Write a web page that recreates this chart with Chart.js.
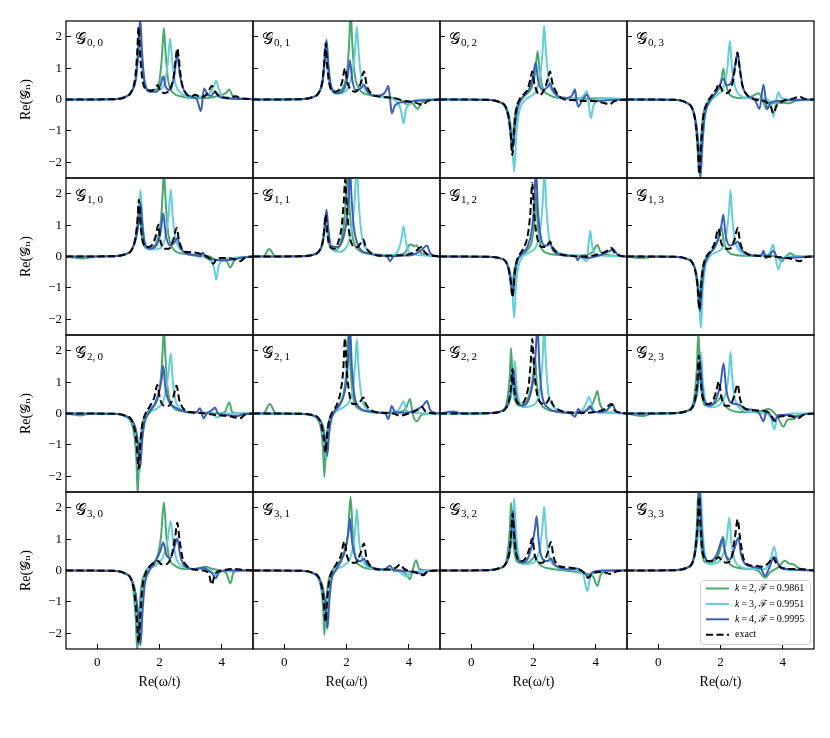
<!DOCTYPE html>
<html>
<head>
<meta charset="utf-8">
<script src="https://cdn.jsdelivr.net/npm/chart.js@4/dist/chart.umd.min.js"></script>
<style>
  body { margin: 0; background: #fff; }
  #wrap { position: relative; width: 830px; height: 738px; }
  canvas { position: absolute; }
</style>
</head>
<body>
<div id="wrap"></div>
<script>
// ---- data: [Re(w/t), Re(G)] pairs ----
// row 0
const g00k2 = [[-1,0],[0.5,0.01],[0.9,0.08],[1.1,0.25],[1.24,0.7],[1.3,1.4],[1.36,2.3],[1.42,1.4],[1.5,0.6],[1.65,0.3],[1.85,0.3],[2.0,0.6],[2.08,1.4],[2.14,2.28],[2.2,1.4],[2.28,0.6],[2.45,0.2],[2.7,0.1],[3.0,0.05],[3.5,0.05],[3.9,0.12],[4.15,0.22],[4.24,0.32],[4.33,0.15],[4.5,0.05],[5,0.01]];
const g00k3 = [[-1,0],[0.5,0.01],[0.9,0.08],[1.1,0.25],[1.24,0.7],[1.31,1.4],[1.37,2.3],[1.43,1.4],[1.5,0.6],[1.7,0.25],[2.0,0.3],[2.18,0.6],[2.27,1.2],[2.34,1.94],[2.41,1.2],[2.5,0.55],[2.7,0.2],[3.0,0.08],[3.4,0.1],[3.65,0.25],[3.75,0.45],[3.82,0.6],[3.9,0.35],[4.0,0.12],[4.3,0.05],[5,0.01]];
const g00k4 = [[-1,0],[0.5,0.01],[0.9,0.08],[1.1,0.25],[1.25,0.7],[1.32,1.5],[1.38,2.6],[1.44,1.5],[1.52,0.6],[1.7,0.25],[1.9,0.25],[2.03,0.45],[2.12,0.74],[2.2,0.4],[2.35,0.3],[2.48,0.8],[2.57,1.45],[2.65,0.8],[2.8,0.25],[3.0,0.1],[3.2,0.0],[3.33,-0.37],[3.43,0.35],[3.55,0.15],[3.65,0.12],[3.79,0.25],[3.9,0.1],[4.2,0.03],[5,0.01]];
const g00ex = [[-1,0],[0.5,0.01],[0.9,0.08],[1.1,0.25],[1.22,0.7],[1.28,1.4],[1.33,2.32],[1.38,1.4],[1.45,0.65],[1.6,0.3],[1.75,0.28],[1.87,0.38],[1.94,0.46],[2.02,0.3],[2.15,0.2],[2.3,0.28],[2.45,0.7],[2.52,1.3],[2.57,1.63],[2.62,1.3],[2.7,0.6],[2.85,0.2],[3.0,0.1],[3.15,0.15],[3.3,0.08],[3.5,0.15],[3.62,0.35],[3.68,0.44],[3.78,0.25],[3.95,0.1],[4.2,0.05],[4.45,0.1],[4.6,0.04],[5,0.01]];

const g01k2 = [[-1,0],[0.5,0.01],[0.9,0.07],[1.1,0.2],[1.22,0.55],[1.28,1.1],[1.33,1.75],[1.38,1.1],[1.45,0.5],[1.65,0.25],[1.9,0.4],[2.03,1.0],[2.09,1.9],[2.13,2.9],[2.18,1.9],[2.25,0.9],[2.4,0.35],[2.7,0.15],[3.1,0.1],[3.5,0.05],[3.8,-0.05],[3.95,-0.16],[4.1,-0.12],[4.28,-0.3],[4.4,-0.12],[4.6,-0.03],[5,0]];
const g01k3 = [[-1,0],[0.5,0.01],[0.9,0.07],[1.1,0.2],[1.22,0.55],[1.28,1.1],[1.34,1.7],[1.4,1.1],[1.47,0.45],[1.7,0.18],[2.0,0.3],[2.18,0.8],[2.27,1.5],[2.33,2.32],[2.39,1.5],[2.47,0.7],[2.65,0.25],[3.0,0.1],[3.4,0.03],[3.65,-0.1],[3.76,-0.4],[3.83,-0.76],[3.9,-0.35],[3.99,-0.17],[4.1,-0.05],[4.5,0],[5,0]];
const g01k4 = [[-1,0],[0.5,0.01],[0.9,0.07],[1.1,0.2],[1.24,0.6],[1.3,1.2],[1.36,1.9],[1.42,1.1],[1.5,0.45],[1.7,0.2],[1.9,0.3],[2.03,0.7],[2.11,1.24],[2.18,0.65],[2.3,0.3],[2.45,0.35],[2.56,0.46],[2.68,0.25],[2.9,0.12],[3.15,0.15],[3.28,0.3],[3.34,0.44],[3.4,0.0],[3.45,-0.44],[3.55,-0.2],[3.7,-0.1],[3.9,-0.08],[4.2,-0.05],[4.5,-0.02],[5,0]];
const g01ex = [[-1,0],[0.5,0.01],[0.9,0.07],[1.1,0.2],[1.22,0.55],[1.28,1.1],[1.33,1.79],[1.38,1.1],[1.45,0.5],[1.6,0.25],[1.75,0.3],[1.87,0.6],[1.95,0.99],[2.03,0.55],[2.15,0.3],[2.3,0.25],[2.45,0.5],[2.56,0.89],[2.65,0.45],[2.8,0.18],[3.0,0.1],[3.5,0.05],[3.9,-0.05],[4.2,-0.1],[4.45,-0.17],[4.6,-0.05],[5,0]];

const g02k2 = [[-1,0],[0.5,-0.01],[0.9,-0.08],[1.1,-0.25],[1.2,-0.6],[1.26,-1.1],[1.3,-1.6],[1.35,-1.0],[1.42,-0.4],[1.55,-0.05],[1.75,0.15],[1.95,0.4],[2.06,0.9],[2.13,1.54],[2.2,0.9],[2.3,0.35],[2.5,0.15],[2.8,0.05],[3.5,0.02],[4.2,0.04],[5,0]];
const g02k3 = [[-1,0],[0.5,-0.01],[0.9,-0.07],[1.1,-0.2],[1.22,-0.5],[1.3,-1.1],[1.38,-2.3],[1.45,-1.1],[1.55,-0.35],[1.7,-0.05],[1.9,0.1],[2.1,0.3],[2.22,0.8],[2.29,1.5],[2.34,2.35],[2.4,1.5],[2.48,0.65],[2.65,0.2],[3.0,0.05],[3.5,0.05],[3.65,0.18],[3.71,0.27],[3.77,-0.1],[3.84,-0.6],[3.92,-0.2],[4.05,0.0],[4.3,0.05],[5,0]];
const g02k4 = [[-1,0],[0.5,-0.01],[0.9,-0.08],[1.1,-0.23],[1.2,-0.55],[1.28,-1.1],[1.34,-1.55],[1.4,-0.9],[1.5,-0.25],[1.65,0.05],[1.85,0.3],[1.98,0.7],[2.07,1.18],[2.15,0.6],[2.3,0.3],[2.45,0.4],[2.53,0.5],[2.62,0.3],[2.8,0.1],[3.1,0.05],[3.25,0.15],[3.33,0.33],[3.38,0.0],[3.44,-0.23],[3.55,-0.05],[3.65,0.1],[3.71,0.16],[3.8,0.02],[4.0,-0.05],[4.3,-0.03],[5,0]];
const g02ex = [[-1,0],[0.5,-0.01],[0.9,-0.08],[1.1,-0.22],[1.2,-0.55],[1.27,-1.1],[1.32,-1.77],[1.37,-1.1],[1.44,-0.35],[1.55,0.0],[1.67,0.14],[1.82,0.35],[1.9,0.65],[1.96,0.89],[2.03,0.5],[2.2,0.14],[2.38,0.4],[2.47,0.7],[2.53,0.89],[2.6,0.55],[2.75,0.2],[3.0,0.0],[3.3,-0.02],[3.6,-0.05],[3.9,-0.05],[4.2,-0.1],[4.45,-0.15],[4.6,-0.05],[5,0]];

const g03k2 = [[-1,0],[0.5,-0.01],[0.9,-0.1],[1.1,-0.3],[1.2,-0.75],[1.26,-1.5],[1.31,-2.25],[1.36,-1.5],[1.43,-0.6],[1.55,-0.15],[1.75,0.1],[1.95,0.35],[2.03,0.65],[2.09,0.99],[2.16,0.55],[2.3,0.15],[2.6,0.05],[3.0,0.1],[3.22,0.2],[3.35,0.0],[3.48,-0.32],[3.6,-0.15],[3.9,-0.1],[4.2,-0.12],[4.4,-0.05],[5,0]];
const g03k3 = [[-1,0],[0.5,-0.01],[0.9,-0.09],[1.1,-0.28],[1.22,-0.75],[1.3,-1.5],[1.36,-2.6],[1.42,-1.5],[1.5,-0.55],[1.65,-0.1],[1.9,0.15],[2.1,0.4],[2.22,1.0],[2.3,1.86],[2.37,1.0],[2.47,0.4],[2.65,0.12],[3.0,0.03],[3.5,0.0],[3.62,-0.15],[3.7,-0.55],[3.77,-0.1],[3.86,0.23],[3.95,0.05],[4.2,0.0],[5,0]];
const g03k4 = [[-1,0],[0.5,-0.01],[0.9,-0.1],[1.1,-0.3],[1.21,-0.75],[1.29,-1.5],[1.35,-2.45],[1.41,-1.5],[1.48,-0.6],[1.6,-0.15],[1.8,0.15],[1.98,0.45],[2.09,0.67],[2.2,0.45],[2.35,0.55],[2.47,1.1],[2.55,1.5],[2.62,1.0],[2.72,0.4],[2.9,0.1],[3.1,0.0],[3.25,-0.3],[3.38,0.47],[3.5,-0.3],[3.6,-0.1],[3.8,-0.05],[4.2,-0.02],[5,0]];
const g03ex = [[-1,0],[0.5,-0.01],[0.9,-0.1],[1.1,-0.3],[1.2,-0.75],[1.27,-1.5],[1.32,-2.38],[1.37,-1.5],[1.44,-0.6],[1.55,-0.15],[1.7,0.1],[1.85,0.3],[1.95,0.5],[2.05,0.3],[2.2,0.2],[2.38,0.5],[2.48,1.1],[2.54,1.5],[2.6,1.1],[2.7,0.45],[2.85,0.15],[3.1,0.0],[3.4,-0.05],[3.6,-0.2],[3.7,-0.44],[3.8,-0.2],[4.0,-0.05],[4.3,0.02],[4.55,0.09],[4.7,0.02],[5,0]];

// row 1
const g10k2 = [[-1,0],[-0.5,-0.06],[0,0],[0.5,0.01],[0.9,0.07],[1.1,0.2],[1.22,0.55],[1.29,1.05],[1.34,1.7],[1.39,1.05],[1.46,0.45],[1.65,0.25],[1.9,0.45],[2.05,1.2],[2.1,2.0],[2.14,2.7],[2.19,1.9],[2.26,0.9],[2.4,0.3],[2.7,0.1],[3.2,0.05],[3.6,0.0],[3.8,-0.1],[4.0,-0.12],[4.15,-0.15],[4.27,-0.35],[4.4,-0.12],[4.6,-0.03],[5,0]];
const g10k3 = [[-1,0],[0.5,0.01],[0.9,0.07],[1.1,0.2],[1.25,0.6],[1.33,1.2],[1.39,2.11],[1.45,1.2],[1.52,0.5],[1.7,0.22],[2.0,0.25],[2.18,0.6],[2.29,1.3],[2.36,2.13],[2.43,1.2],[2.52,0.55],[2.7,0.2],[3.0,0.05],[3.4,0.0],[3.6,-0.1],[3.75,-0.35],[3.82,-0.74],[3.9,-0.3],[4.05,-0.1],[4.3,-0.05],[5,0]];
const g10k4 = [[-1,0],[0.5,0.01],[0.9,0.07],[1.1,0.2],[1.25,0.6],[1.33,1.1],[1.39,1.7],[1.45,1.0],[1.52,0.45],[1.7,0.25],[1.9,0.35],[2.04,0.8],[2.12,1.38],[2.2,0.7],[2.35,0.35],[2.48,0.45],[2.57,0.59],[2.66,0.3],[2.85,0.1],[3.2,0.03],[3.32,0.0],[3.39,0.13],[3.48,-0.02],[3.7,-0.1],[4.0,-0.12],[4.3,-0.1],[4.6,-0.05],[5,0]];
const g10ex = [[-1,0],[0.5,0.01],[0.9,0.07],[1.1,0.2],[1.22,0.55],[1.29,1.1],[1.34,1.81],[1.39,1.1],[1.46,0.5],[1.6,0.3],[1.75,0.35],[1.88,0.65],[1.96,1.01],[2.03,0.5],[2.15,0.25],[2.3,0.25],[2.45,0.55],[2.55,0.91],[2.63,0.5],[2.8,0.15],[3.1,0.13],[3.4,0.05],[3.6,-0.05],[3.73,-0.23],[3.85,-0.05],[4.2,-0.05],[4.45,-0.1],[4.59,-0.15],[4.75,-0.03],[5,0]];

const g11k2 = [[-1,0],[-0.65,0.02],[-0.48,0.24],[-0.3,0.02],[0,0],[0.5,0.01],[0.9,0.05],[1.1,0.15],[1.22,0.4],[1.28,0.8],[1.33,1.3],[1.38,0.8],[1.45,0.35],[1.65,0.2],[1.85,0.6],[1.96,1.5],[2.03,2.7],[2.1,1.5],[2.2,0.6],[2.4,0.2],[2.8,0.08],[3.3,0.05],[3.7,0.05],[3.9,0.15],[4.0,0.35],[4.09,0.38],[4.17,0.32],[4.25,0.36],[4.35,0.15],[4.6,0.05],[5,0]];
const g11k3 = [[-1,0],[0.5,0.01],[0.9,0.05],[1.1,0.15],[1.23,0.4],[1.3,0.8],[1.35,1.25],[1.4,0.8],[1.47,0.35],[1.7,0.15],[2.0,0.3],[2.15,0.8],[2.25,1.6],[2.33,2.9],[2.4,1.6],[2.5,0.6],[2.7,0.2],[3.1,0.05],[3.5,0.05],[3.7,0.3],[3.77,0.6],[3.83,0.96],[3.9,0.5],[4.0,0.15],[4.3,0.05],[5,0]];
const g11k4 = [[-1,0],[0.5,0.01],[0.9,0.05],[1.1,0.15],[1.24,0.45],[1.3,0.9],[1.36,1.49],[1.42,0.85],[1.5,0.35],[1.7,0.3],[1.9,0.6],[2.02,1.3],[2.07,2.0],[2.11,2.8],[2.16,1.9],[2.24,0.9],[2.4,0.3],[2.7,0.1],[3.1,0.03],[3.3,0.0],[3.4,-0.15],[3.5,0.0],[3.8,0.03],[4.1,0.05],[4.4,0.2],[4.58,0.35],[4.68,0.12],[4.85,0.02],[5,0]];
const g11ex = [[-1,0],[0.5,0.01],[0.9,0.05],[1.1,0.15],[1.22,0.4],[1.28,0.8],[1.33,1.33],[1.38,0.8],[1.45,0.35],[1.6,0.25],[1.75,0.5],[1.85,1.0],[1.91,1.7],[1.96,2.45],[2.01,1.6],[2.08,0.8],[2.2,0.35],[2.35,0.3],[2.47,0.45],[2.54,0.54],[2.62,0.3],[2.8,0.1],[3.2,0.02],[3.6,0.03],[3.9,0.05],[4.2,0.15],[4.35,0.28],[4.42,0.3],[4.5,0.15],[4.7,0.03],[5,0]];

const g12k2 = [[-1,0],[0.5,-0.01],[0.9,-0.05],[1.1,-0.15],[1.2,-0.4],[1.26,-0.8],[1.31,-1.2],[1.36,-0.6],[1.45,-0.15],[1.6,0.05],[1.8,0.2],[1.95,0.5],[2.03,1.1],[2.08,2.0],[2.13,1.1],[2.22,0.4],[2.4,0.12],[2.8,0.05],[3.3,0.03],[3.7,0.05],[3.9,0.15],[4.05,0.37],[4.15,0.15],[4.4,0.05],[5,0]];
const g12k3 = [[-1,0],[0.5,-0.01],[0.9,-0.05],[1.1,-0.15],[1.22,-0.4],[1.31,-0.9],[1.38,-1.96],[1.44,-0.9],[1.52,-0.3],[1.65,0.0],[1.9,0.15],[2.1,0.35],[2.22,0.9],[2.3,1.8],[2.35,2.8],[2.41,1.6],[2.5,0.6],[2.7,0.2],[3.1,0.05],[3.5,0.0],[3.71,-0.15],[3.77,0.4],[3.82,0.83],[3.88,0.35],[3.96,0.1],[4.2,0.03],[5,0]];
const g12k4 = [[-1,0],[0.5,-0.01],[0.9,-0.05],[1.1,-0.15],[1.21,-0.4],[1.28,-0.8],[1.34,-1.25],[1.4,-0.6],[1.48,-0.15],[1.6,0.05],[1.8,0.3],[1.94,0.8],[2.02,1.6],[2.08,2.8],[2.14,1.5],[2.22,0.7],[2.35,0.35],[2.45,0.35],[2.53,0.43],[2.62,0.2],[2.8,0.08],[3.2,0.02],[3.35,0.0],[3.42,-0.12],[3.5,0.0],[3.71,-0.05],[4.0,0.0],[4.3,0.1],[4.57,0.22],[4.68,0.08],[4.85,0.01],[5,0]];
const g12ex = [[-1,0],[0.5,-0.01],[0.9,-0.05],[1.1,-0.15],[1.2,-0.4],[1.27,-0.8],[1.33,-1.3],[1.38,-0.7],[1.45,-0.2],[1.55,0.05],[1.7,0.3],[1.82,0.7],[1.9,1.4],[1.96,2.34],[2.02,1.4],[2.1,0.7],[2.25,0.3],[2.4,0.3],[2.47,0.4],[2.53,0.48],[2.6,0.3],[2.8,0.1],[3.2,0.02],[3.6,0.0],[4.0,0.05],[4.3,0.15],[4.45,0.25],[4.51,0.27],[4.6,0.12],[4.8,0.02],[5,0]];

const g13k2 = [[-1,0],[-0.5,-0.05],[0,0],[0.5,-0.01],[0.9,-0.07],[1.1,-0.2],[1.2,-0.5],[1.26,-1.0],[1.31,-1.6],[1.36,-0.9],[1.44,-0.3],[1.6,0.05],[1.8,0.25],[1.95,0.6],[2.03,0.95],[2.1,0.5],[2.25,0.15],[2.5,0.05],[3.0,0.02],[3.5,0.02],[3.8,0.0],[3.97,-0.15],[4.1,0.0],[4.23,0.1],[4.4,0.02],[5,0]];
const g13k3 = [[-1,0],[0.5,-0.01],[0.9,-0.06],[1.1,-0.2],[1.22,-0.5],[1.3,-1.1],[1.37,-2.28],[1.43,-1.1],[1.5,-0.4],[1.65,0.0],[1.9,0.15],[2.1,0.35],[2.2,0.8],[2.27,1.4],[2.32,2.11],[2.38,1.2],[2.47,0.5],[2.65,0.15],[3.0,0.03],[3.4,0.02],[3.6,0.15],[3.68,0.38],[3.76,0.0],[3.86,-0.42],[3.95,-0.1],[4.2,0.0],[5,0]];
const g13k4 = [[-1,0],[0.5,-0.01],[0.9,-0.07],[1.1,-0.2],[1.21,-0.5],[1.28,-1.0],[1.34,-1.75],[1.4,-1.0],[1.47,-0.35],[1.6,0.0],[1.8,0.3],[1.95,0.65],[2.03,1.0],[2.09,1.33],[2.16,0.7],[2.3,0.35],[2.45,0.4],[2.55,0.48],[2.65,0.25],[2.85,0.08],[3.2,0.02],[3.32,0.05],[3.38,0.18],[3.45,-0.05],[3.58,0.05],[3.7,0.18],[3.8,0.0],[4.0,-0.05],[4.4,-0.03],[5,0]];
const g13ex = [[-1,0],[0.5,-0.01],[0.9,-0.07],[1.1,-0.2],[1.2,-0.5],[1.27,-1.0],[1.32,-1.69],[1.37,-1.0],[1.44,-0.35],[1.55,0.0],[1.7,0.2],[1.82,0.45],[1.93,0.88],[2.02,0.45],[2.15,0.25],[2.3,0.25],[2.45,0.55],[2.55,0.91],[2.63,0.45],[2.8,0.12],[3.1,0.03],[3.5,0.0],[3.9,-0.02],[4.3,-0.08],[4.55,-0.15],[4.7,-0.03],[5,0]];

// row 2
const g20k2 = [[-1,0],[-0.55,-0.06],[-0.2,0],[0.5,-0.01],[0.9,-0.09],[1.1,-0.3],[1.2,-0.75],[1.26,-1.5],[1.3,-2.55],[1.35,-1.4],[1.43,-0.45],[1.55,-0.05],[1.75,0.2],[1.95,0.5],[2.05,1.2],[2.1,2.0],[2.14,2.7],[2.19,1.8],[2.26,0.8],[2.4,0.25],[2.7,0.08],[3.2,0.03],[3.6,0.02],[3.9,0.0],[4.1,0.05],[4.24,0.35],[4.33,0.05],[4.5,0.0],[5,0]];
const g20k3 = [[-1,0],[0.5,-0.01],[0.9,-0.07],[1.1,-0.2],[1.22,-0.55],[1.3,-1.1],[1.36,-1.9],[1.42,-1.0],[1.5,-0.35],[1.65,0.0],[1.9,0.15],[2.1,0.35],[2.22,0.8],[2.3,1.4],[2.36,1.91],[2.43,1.0],[2.52,0.4],[2.7,0.12],[3.0,0.03],[3.4,0.03],[3.7,0.0],[3.84,-0.13],[3.95,-0.05],[4.2,0.0],[5,0]];
const g20k4 = [[-1,0],[0.5,-0.01],[0.9,-0.07],[1.1,-0.2],[1.24,-0.5],[1.32,-1.0],[1.38,-1.72],[1.44,-0.9],[1.52,-0.3],[1.65,0.0],[1.85,0.3],[2.0,0.75],[2.07,1.1],[2.12,1.52],[2.19,0.8],[2.32,0.35],[2.5,0.2],[2.7,0.1],[3.0,0.03],[3.2,0.05],[3.3,0.17],[3.41,-0.15],[3.52,0.0],[3.7,0.12],[3.78,0.19],[3.88,0.0],[4.1,-0.05],[4.5,-0.08],[4.7,-0.02],[5,0]];
const g20ex = [[-1,0],[0.5,-0.01],[0.9,-0.07],[1.1,-0.2],[1.2,-0.5],[1.27,-1.0],[1.33,-1.77],[1.38,-1.0],[1.45,-0.35],[1.55,0.0],[1.7,0.25],[1.83,0.5],[1.93,0.91],[2.02,0.45],[2.15,0.25],[2.3,0.25],[2.45,0.55],[2.55,0.88],[2.63,0.45],[2.8,0.12],[3.1,0.03],[3.5,0.0],[3.8,-0.05],[4.2,-0.08],[4.59,-0.15],[4.75,-0.03],[5,0]];

const g21k2 = [[-1,0],[-0.65,0.02],[-0.46,0.3],[-0.28,0.02],[0,0],[0.5,-0.01],[0.9,-0.07],[1.1,-0.22],[1.2,-0.6],[1.25,-1.2],[1.29,-2.02],[1.34,-1.0],[1.42,-0.3],[1.55,0.0],[1.75,0.25],[1.92,0.7],[2.01,1.5],[2.07,2.7],[2.13,1.4],[2.22,0.5],[2.4,0.15],[2.8,0.05],[3.3,0.02],[3.7,0.05],[3.9,0.15],[4.04,0.46],[4.12,0.0],[4.26,-0.25],[4.4,-0.05],[4.7,0.0],[5,0]];
const g21k3 = [[-1,0],[0.5,-0.01],[0.9,-0.05],[1.1,-0.15],[1.22,-0.4],[1.3,-0.85],[1.36,-1.45],[1.42,-0.7],[1.5,-0.2],[1.65,0.05],[1.9,0.2],[2.1,0.4],[2.22,0.9],[2.28,1.6],[2.33,2.37],[2.39,1.4],[2.48,0.55],[2.65,0.15],[3.0,0.03],[3.4,0.03],[3.65,0.1],[3.75,0.25],[3.83,0.38],[3.92,0.1],[4.1,0.02],[5,0]];
const g21k4 = [[-1,0],[0.5,-0.01],[0.9,-0.05],[1.1,-0.15],[1.24,-0.4],[1.32,-0.85],[1.38,-1.35],[1.44,-0.65],[1.52,-0.15],[1.65,0.1],[1.85,0.4],[1.98,0.9],[2.05,1.7],[2.11,2.8],[2.17,1.5],[2.25,0.6],[2.4,0.2],[2.7,0.07],[3.1,0.02],[3.25,0.0],[3.34,-0.18],[3.45,0.24],[3.55,0.05],[3.9,0.02],[4.2,0.1],[4.45,0.25],[4.58,0.4],[4.68,0.12],[4.85,0.02],[5,0]];
const g21ex = [[-1,0],[0.5,-0.01],[0.9,-0.05],[1.1,-0.15],[1.2,-0.4],[1.27,-0.8],[1.33,-1.24],[1.38,-0.65],[1.45,-0.2],[1.55,0.05],[1.7,0.3],[1.82,0.75],[1.9,1.45],[1.95,2.4],[2.01,1.4],[2.08,0.7],[2.2,0.3],[2.35,0.3],[2.47,0.42],[2.54,0.51],[2.62,0.3],[2.8,0.1],[3.2,0.02],[3.5,0.0],[3.72,-0.07],[4.0,0.0],[4.3,0.12],[4.42,0.21],[4.52,0.08],[4.75,0.01],[5,0]];

const g22k2 = [[-1,0],[0.5,0.01],[0.9,0.06],[1.1,0.2],[1.18,0.6],[1.24,1.2],[1.28,2.08],[1.33,1.1],[1.4,0.45],[1.55,0.25],[1.75,0.35],[1.92,0.8],[2.0,1.3],[2.05,1.8],[2.11,0.9],[2.2,0.4],[2.4,0.15],[2.8,0.05],[3.3,0.02],[3.7,0.1],[3.87,0.24],[3.97,0.5],[4.05,0.72],[4.12,0.35],[4.25,0.1],[4.5,0.03],[5,0]];
const g22k3 = [[-1,0],[0.5,0.01],[0.9,0.05],[1.1,0.15],[1.26,0.45],[1.34,0.95],[1.4,1.68],[1.46,0.9],[1.54,0.4],[1.7,0.2],[1.95,0.25],[2.15,0.5],[2.25,1.1],[2.3,1.9],[2.34,2.9],[2.39,1.8],[2.47,0.7],[2.62,0.25],[2.9,0.08],[3.3,0.03],[3.6,0.15],[3.7,0.35],[3.78,0.53],[3.87,0.25],[4.0,0.05],[4.3,0.02],[5,0]];
const g22k4 = [[-1,0],[-0.58,0.06],[-0.3,0],[0.5,0.01],[0.9,0.05],[1.1,0.15],[1.23,0.45],[1.3,0.9],[1.35,1.42],[1.41,0.85],[1.48,0.4],[1.65,0.25],[1.85,0.45],[1.98,1.0],[2.06,1.8],[2.13,2.8],[2.19,1.5],[2.28,0.55],[2.45,0.2],[2.8,0.05],[3.2,0.0],[3.33,-0.1],[3.44,0.14],[3.55,0.0],[3.7,0.1],[3.82,0.24],[3.92,0.05],[4.2,0.05],[4.4,0.15],[4.53,0.3],[4.63,0.1],[4.8,0.02],[5,0]];
const g22ex = [[-1,0],[0.5,0.01],[0.9,0.05],[1.1,0.15],[1.22,0.45],[1.28,0.9],[1.32,1.41],[1.37,0.85],[1.45,0.4],[1.6,0.3],[1.75,0.5],[1.85,0.95],[1.91,1.6],[1.96,2.37],[2.02,1.4],[2.1,0.7],[2.22,0.35],[2.38,0.3],[2.47,0.42],[2.53,0.51],[2.61,0.3],[2.8,0.12],[3.2,0.03],[3.6,0.02],[4.0,0.05],[4.3,0.15],[4.49,0.3],[4.6,0.1],[4.8,0.02],[5,0]];

const g23k2 = [[-1,0],[-0.48,-0.08],[-0.2,0],[0.5,0.01],[0.9,0.08],[1.1,0.25],[1.18,0.7],[1.24,1.4],[1.29,2.6],[1.34,1.4],[1.41,0.55],[1.55,0.25],[1.8,0.3],[1.95,0.45],[2.04,0.55],[2.12,0.3],[2.3,0.12],[2.6,0.05],[3.0,0.05],[3.3,0.08],[3.54,0.14],[3.7,0.05],[3.85,-0.15],[4.02,-0.42],[4.15,-0.2],[4.34,-0.18],[4.5,-0.05],[5,0]];
const g23k3 = [[-1,0],[0.5,0.01],[0.9,0.07],[1.1,0.2],[1.24,0.55],[1.31,1.1],[1.37,1.97],[1.43,1.1],[1.5,0.45],[1.7,0.2],[2.0,0.3],[2.18,0.7],[2.27,1.3],[2.32,1.97],[2.38,1.1],[2.47,0.45],[2.65,0.15],[3.0,0.05],[3.4,0.0],[3.6,-0.1],[3.73,-0.5],[3.82,-0.15],[4.0,-0.05],[4.3,0.0],[5,0]];
const g23k4 = [[-1,0],[0.5,0.01],[0.9,0.07],[1.1,0.2],[1.22,0.55],[1.29,1.1],[1.34,1.72],[1.4,1.0],[1.47,0.45],[1.65,0.25],[1.85,0.45],[2.0,0.95],[2.1,1.6],[2.18,0.8],[2.32,0.35],[2.5,0.3],[2.6,0.28],[2.8,0.15],[3.1,0.1],[3.25,0.0],[3.38,-0.25],[3.48,0.08],[3.6,-0.05],[3.73,-0.25],[3.85,-0.05],[4.2,-0.05],[4.5,-0.1],[4.7,-0.02],[5,0]];
const g23ex = [[-1,0],[0.5,0.01],[0.9,0.07],[1.1,0.2],[1.2,0.55],[1.26,1.1],[1.31,1.84],[1.36,1.1],[1.43,0.5],[1.6,0.3],[1.75,0.4],[1.86,0.7],[1.95,1.02],[2.03,0.5],[2.15,0.25],[2.3,0.25],[2.45,0.6],[2.55,0.93],[2.63,0.45],[2.8,0.15],[3.1,0.1],[3.5,0.05],[3.65,-0.1],[3.75,-0.23],[3.9,-0.1],[4.2,-0.08],[4.5,-0.15],[4.65,-0.05],[5,0]];

// row 3
const g30k2 = [[-1,0],[0.5,-0.01],[0.9,-0.1],[1.1,-0.32],[1.18,-0.8],[1.24,-1.6],[1.29,-2.6],[1.34,-1.5],[1.42,-0.5],[1.55,-0.05],[1.75,0.2],[1.95,0.5],[2.05,1.1],[2.14,2.17],[2.22,1.1],[2.3,0.45],[2.5,0.15],[2.8,0.05],[3.2,0.05],[3.46,0.12],[3.7,0.05],[3.95,0.0],[4.15,-0.1],[4.27,-0.41],[4.38,-0.05],[4.6,0.0],[5,0]];
const g30k3 = [[-1,0],[0.5,-0.01],[0.9,-0.09],[1.1,-0.28],[1.22,-0.75],[1.29,-1.5],[1.35,-2.3],[1.41,-1.4],[1.48,-0.5],[1.6,-0.05],[1.85,0.15],[2.1,0.4],[2.25,0.9],[2.36,1.58],[2.44,0.9],[2.55,0.35],[2.75,0.12],[3.1,0.05],[3.5,0.05],[3.7,-0.05],[3.78,-0.17],[3.88,0.0],[4.2,0.0],[5,0]];
const g30k4 = [[-1,0],[0.5,-0.01],[0.9,-0.09],[1.1,-0.28],[1.24,-0.75],[1.32,-1.5],[1.39,-2.38],[1.45,-1.4],[1.52,-0.5],[1.65,-0.05],[1.85,0.25],[2.02,0.6],[2.12,0.89],[2.22,0.5],[2.35,0.4],[2.48,0.75],[2.57,1.02],[2.66,0.5],[2.8,0.15],[3.1,0.05],[3.41,0.09],[3.55,0.0],[3.7,-0.1],[3.8,-0.25],[3.92,-0.05],[4.2,0.0],[5,0]];
const g30ex = [[-1,0],[0.5,-0.01],[0.9,-0.1],[1.1,-0.3],[1.2,-0.75],[1.27,-1.5],[1.33,-2.32],[1.38,-1.5],[1.45,-0.55],[1.55,-0.1],[1.7,0.15],[1.85,0.25],[1.96,0.3],[2.05,0.2],[2.2,0.2],[2.38,0.45],[2.5,1.05],[2.57,1.52],[2.64,1.0],[2.74,0.4],[2.9,0.12],[3.1,0.03],[3.4,0.0],[3.58,-0.1],[3.68,-0.45],[3.78,-0.1],[4.0,0.0],[4.4,0.05],[4.7,0.02],[5,0]];

const g31k2 = [[-1,0],[0.5,-0.01],[0.9,-0.08],[1.1,-0.25],[1.2,-0.65],[1.25,-1.2],[1.29,-2.06],[1.34,-1.1],[1.42,-0.35],[1.55,0.0],[1.75,0.25],[1.95,0.6],[2.05,1.2],[2.13,2.35],[2.2,1.2],[2.28,0.45],[2.45,0.15],[2.8,0.05],[3.3,0.02],[3.7,0.0],[3.9,-0.1],[4.04,-0.28],[4.12,0.0],[4.23,0.33],[4.33,0.05],[4.6,0.0],[5,0]];
const g31k3 = [[-1,0],[0.5,-0.01],[0.9,-0.07],[1.1,-0.22],[1.22,-0.55],[1.3,-1.1],[1.36,-1.8],[1.42,-0.9],[1.5,-0.3],[1.65,0.0],[1.9,0.15],[2.1,0.35],[2.22,0.8],[2.28,1.3],[2.33,1.95],[2.4,1.0],[2.5,0.4],[2.68,0.12],[3.0,0.03],[3.4,0.03],[3.7,-0.05],[3.9,-0.18],[4.05,-0.1],[4.3,-0.02],[5,0]];
const g31k4 = [[-1,0],[0.5,-0.01],[0.9,-0.07],[1.1,-0.22],[1.24,-0.55],[1.32,-1.1],[1.39,-1.85],[1.45,-0.95],[1.52,-0.3],[1.65,0.0],[1.85,0.35],[2.0,0.85],[2.06,1.2],[2.11,1.66],[2.18,0.9],[2.3,0.4],[2.45,0.3],[2.56,0.38],[2.66,0.2],[2.9,0.07],[3.2,0.03],[3.4,0.15],[3.52,0.0],[3.7,0.0],[4.0,-0.03],[4.47,-0.1],[4.65,-0.02],[5,0]];
const g31ex = [[-1,0],[0.5,-0.01],[0.9,-0.07],[1.1,-0.2],[1.2,-0.5],[1.27,-1.0],[1.33,-1.63],[1.38,-0.9],[1.45,-0.3],[1.55,0.0],[1.7,0.25],[1.83,0.5],[1.93,0.93],[2.02,0.45],[2.15,0.25],[2.3,0.25],[2.45,0.55],[2.56,0.86],[2.64,0.4],[2.8,0.12],[3.1,0.03],[3.4,0.03],[3.6,0.1],[3.72,0.19],[3.85,0.05],[4.2,-0.05],[4.47,-0.15],[4.6,-0.03],[5,0]];

const g32k2 = [[-1,0],[0.5,0.01],[0.9,0.07],[1.1,0.22],[1.18,0.65],[1.24,1.3],[1.28,2.16],[1.33,1.2],[1.4,0.5],[1.55,0.25],[1.8,0.25],[1.95,0.35],[2.05,0.45],[2.12,0.3],[2.3,0.12],[2.6,0.05],[3.0,0.0],[3.4,-0.05],[3.7,-0.1],[3.92,-0.2],[4.05,-0.49],[4.15,-0.15],[4.35,-0.02],[5,0]];
const g32k3 = [[-1,0],[0.5,0.01],[0.9,0.07],[1.1,0.2],[1.25,0.6],[1.32,1.2],[1.38,2.3],[1.44,1.2],[1.52,0.5],[1.7,0.2],[2.0,0.25],[2.18,0.6],[2.28,1.3],[2.34,2.04],[2.41,1.1],[2.5,0.45],[2.7,0.15],[3.0,0.03],[3.4,0.0],[3.6,-0.15],[3.73,-0.65],[3.82,-0.2],[4.0,-0.05],[4.3,0.0],[5,0]];
const g32k4 = [[-1,0],[0.5,0.01],[0.9,0.07],[1.1,0.2],[1.23,0.6],[1.29,1.2],[1.34,1.9],[1.4,1.1],[1.47,0.45],[1.65,0.25],[1.85,0.45],[1.98,0.95],[2.05,1.35],[2.1,1.73],[2.17,0.9],[2.3,0.35],[2.45,0.3],[2.56,0.38],[2.66,0.2],[2.9,0.07],[3.2,0.03],[3.39,0.06],[3.6,-0.05],[3.76,-0.19],[3.9,-0.05],[4.2,0.0],[5,0]];
const g32ex = [[-1,0],[0.5,0.01],[0.9,0.07],[1.1,0.2],[1.22,0.55],[1.28,1.1],[1.33,1.81],[1.38,1.1],[1.45,0.5],[1.6,0.3],[1.75,0.4],[1.87,0.7],[1.96,1.02],[2.04,0.5],[2.16,0.25],[2.3,0.25],[2.45,0.55],[2.56,0.91],[2.64,0.45],[2.8,0.15],[3.12,0.1],[3.4,0.05],[3.6,-0.05],[3.76,-0.24],[3.9,-0.08],[4.2,-0.05],[4.51,-0.12],[4.65,-0.03],[5,0]];

const g33k2 = [[-1,0],[0.5,0.01],[0.9,0.08],[1.1,0.25],[1.18,0.7],[1.24,1.4],[1.29,2.6],[1.34,1.4],[1.41,0.55],[1.55,0.25],[1.8,0.3],[1.95,0.55],[2.03,0.85],[2.09,1.08],[2.16,0.55],[2.3,0.2],[2.6,0.08],[2.9,0.05],[3.2,0.0],[3.43,-0.23],[3.6,-0.05],[3.85,0.1],[4.07,0.31],[4.2,0.22],[4.34,0.2],[4.5,0.08],[5,0]];
const g33k3 = [[-1,0],[0.5,0.01],[0.9,0.08],[1.1,0.25],[1.22,0.7],[1.3,1.4],[1.36,2.6],[1.42,1.4],[1.49,0.55],[1.65,0.2],[1.9,0.25],[2.1,0.55],[2.2,1.0],[2.28,1.68],[2.35,0.9],[2.45,0.35],[2.65,0.12],[3.0,0.05],[3.4,0.05],[3.6,0.3],[3.72,0.76],[3.82,0.3],[3.95,0.08],[4.3,0.02],[5,0]];
const g33k4 = [[-1,0],[0.5,0.01],[0.9,0.08],[1.1,0.25],[1.2,0.7],[1.27,1.4],[1.33,2.55],[1.39,1.4],[1.46,0.55],[1.65,0.3],[1.85,0.45],[1.98,0.8],[2.06,1.02],[2.15,0.55],[2.3,0.35],[2.45,0.7],[2.57,1.04],[2.66,0.5],[2.8,0.2],[3.1,0.1],[3.3,0.05],[3.43,-0.17],[3.55,0.05],[3.68,0.38],[3.75,0.42],[3.85,0.2],[4.0,0.08],[4.3,0.03],[5,0]];
const g33ex = [[-1,0],[0.5,0.01],[0.9,0.08],[1.1,0.25],[1.2,0.7],[1.26,1.4],[1.31,2.35],[1.36,1.4],[1.43,0.55],[1.6,0.3],[1.75,0.3],[1.87,0.38],[1.95,0.42],[2.05,0.3],[2.2,0.25],[2.35,0.4],[2.47,1.1],[2.55,1.63],[2.62,1.1],[2.72,0.45],[2.9,0.18],[3.11,0.15],[3.35,0.12],[3.55,0.25],[3.68,0.42],[3.78,0.25],[3.95,0.08],[4.3,0.05],[4.5,0.05],[5,0]];

const panels = [
  [g00k2, g00k3, g00k4, g00ex], [g01k2, g01k3, g01k4, g01ex], [g02k2, g02k3, g02k4, g02ex], [g03k2, g03k3, g03k4, g03ex],
  [g10k2, g10k3, g10k4, g10ex], [g11k2, g11k3, g11k4, g11ex], [g12k2, g12k3, g12k4, g12ex], [g13k2, g13k3, g13k4, g13ex],
  [g20k2, g20k3, g20k4, g20ex], [g21k2, g21k3, g21k4, g21ex], [g22k2, g22k3, g22k4, g22ex], [g23k2, g23k3, g23k4, g23ex],
  [g30k2, g30k3, g30k4, g30ex], [g31k2, g31k3, g31k4, g31ex], [g32k2, g32k3, g32k4, g32ex], [g33k2, g33k3, g33k4, g33ex]
];
const seriesLabels = ['k\u2009=\u20092, \u2131\u2009=\u20090.9861', 'k\u2009=\u20093, \u2131\u2009=\u20090.9951', 'k\u2009=\u20094, \u2131\u2009=\u20090.9995', 'exact'];
const xTicks = [0, 2, 4];
const yTicks = [-2, -1, 0, 1, 2];

// ---- layout / style ----
const colors = ['#4aa96c', '#62cfdb', '#3b5fb8', '#000000'];
const serif = '"Liberation Serif", "DejaVu Serif", serif';
const PW = 187, PH = 157;          // panel size
const X0 = 66, Y0 = 21;            // top-left of first panel
const PADL = 66, PADR = 6, PADT = 6, PADB = 56;

function fmt(v) { return v < 0 ? '\u2212' + (-v) : String(v); }
function noPad(s) { s.paddingTop = 0; s.paddingBottom = 0; s.paddingLeft = 0; s.paddingRight = 0; }

const framePlugin = {
  id: 'frame',
  afterDatasetsDraw(chart, args, opts) {
    const a = chart.chartArea, ctx = chart.ctx;
    ctx.save();
    ctx.strokeStyle = '#000';
    ctx.lineWidth = 1.2;
    ctx.strokeRect(a.left, a.top, a.right - a.left, a.bottom - a.top);
    // panel name, e.g. G_{0,0}
    ctx.fillStyle = '#000';
    ctx.textBaseline = 'alphabetic';
    ctx.font = '16px ' + serif;
    ctx.fillText('\u{1D4A2}', a.left + 9, a.top + 23);
    const w = ctx.measureText('\u{1D4A2}').width;
    ctx.font = '11px ' + serif;
    ctx.fillText(opts.name, a.left + 9 + w + 1, a.top + 25);
    ctx.restore();
  }
};

const legendPlugin = {
  id: 'innerLegend',
  afterDatasetsDraw(chart, args, opts) {
    if (!opts.show) return;
    const a = chart.chartArea, ctx = chart.ctx;
    const bw = 110, bh = 64;
    const bx = a.right - bw - 4, by = a.bottom - bh - 5;
    ctx.save();
    ctx.fillStyle = 'rgba(255,255,255,0.85)';
    ctx.strokeStyle = '#d0d0d0';
    ctx.lineWidth = 1;
    ctx.beginPath();
    ctx.roundRect(bx + 0.5, by + 0.5, bw, bh, 3);
    ctx.fill();
    ctx.stroke();
    chart.data.datasets.forEach((ds, i) => {
      const y = by + 8.5 + i * 15.4;
      ctx.strokeStyle = ds.borderColor;
      ctx.lineWidth = ds.borderWidth;
      ctx.setLineDash(ds.borderDash || []);
      ctx.beginPath();
      ctx.moveTo(bx + 6, y);
      ctx.lineTo(bx + 29, y);
      ctx.stroke();
      ctx.setLineDash([]);
      ctx.fillStyle = '#000';
      ctx.textBaseline = 'middle';
      let tx = bx + 35, text = ds.label;
      if (text.startsWith('k')) {
        ctx.font = 'italic 10px ' + serif;
        ctx.fillText('k', tx, y);
        tx += ctx.measureText('k').width;
        text = text.slice(1);
      }
      ctx.font = '10px ' + serif;
      ctx.fillText(text, tx, y);
    });
    ctx.restore();
  }
};

const wrap = document.getElementById('wrap');

for (let r = 0; r < 4; r++) {
  for (let c = 0; c < 4; c++) {
    const cv = document.createElement('canvas');
    const W = PADL + PW + PADR, H = PADT + PH + PADB;
    cv.width = W; cv.height = H;
    cv.style.left = (X0 + c * PW - PADL) + 'px';
    cv.style.top = (Y0 + r * PH - PADT) + 'px';
    cv.style.width = W + 'px'; cv.style.height = H + 'px';
    wrap.appendChild(cv);

    const bottom = r === 3, first = c === 0;
    new Chart(cv, {
      type: 'line',
      data: {
        datasets: panels[r * 4 + c].map((d, j) => ({
          label: seriesLabels[j],
          data: d,
          borderColor: colors[j],
          borderWidth: 2,
          borderDash: j === 3 ? [7, 3.5] : [],
          pointRadius: 0,
          fill: false,
          cubicInterpolationMode: 'monotone',
          order: 3 - j
        }))
      },
      options: {
        responsive: false,
        animation: false,
        events: [],
        layout: { autoPadding: false, padding: { top: PADT, right: PADR, left: 0, bottom: 0 } },
        plugins: {
          legend: { display: false },
          tooltip: { enabled: false },
          frame: { name: r + ',\u2009' + c },
          innerLegend: { show: r === 3 && c === 3 }
        },
        scales: {
          x: {
            type: 'linear', min: -1, max: 5,
            afterBuildTicks: s => { s.ticks = xTicks.map(v => ({ value: v })); },
            afterFit: s => { s.height = PADB; noPad(s); },
            border: { display: false },
            grid: { display: bottom, drawOnChartArea: false, drawTicks: true, tickLength: -5, color: '#000', lineWidth: 1 },
            ticks: { display: bottom, padding: 11, color: '#000', maxRotation: 0, autoSkip: false,
                     font: { family: serif, size: 13 }, callback: fmt },
            title: { display: bottom, text: 'Re(\u03C9/t)', color: '#000',
                     font: { family: serif, size: 14 }, padding: { top: 0, bottom: 14 } }
          },
          y: {
            type: 'linear', min: -2.5, max: 2.5,
            afterBuildTicks: s => { s.ticks = yTicks.map(v => ({ value: v })); },
            afterFit: s => { s.width = PADL; noPad(s); },
            border: { display: false },
            grid: { display: true, drawOnChartArea: false, drawTicks: true, tickLength: -5, color: '#000', lineWidth: 1 },
            ticks: { display: first, padding: 9, color: '#000', autoSkip: false,
                     font: { family: serif, size: 13 }, callback: fmt },
            title: { display: first, text: 'Re(\u{1D4A2}\u2099)', color: '#000',
                     font: { family: serif, size: 14 }, padding: { top: 18, bottom: 0 } }
          }
        }
      },
      plugins: [framePlugin, legendPlugin]
    });
  }
}
</script>
</body>
</html>
